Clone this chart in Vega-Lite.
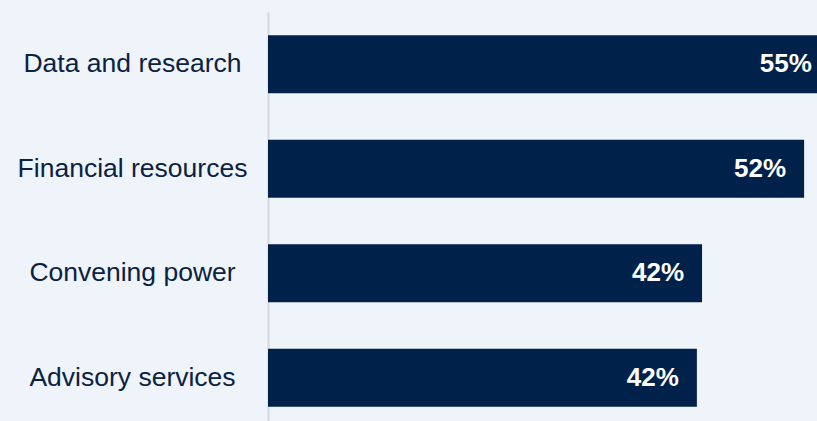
{
 "$schema": "https://vega.github.io/schema/vega-lite/v6.json",
 "width": 549,
 "height": 409,
 "autosize": {"type": "none"},
 "padding": {"left": 268, "top": 12, "right": 0, "bottom": 0},
 "background": "#eff3fa",
 "config": {"view": {"stroke": null}},
 "data": {"values": [
  {"category": "Data and research", "value": 54.5, "label": "55%"},
  {"category": "Financial resources", "value": 52.0, "label": "52%"},
  {"category": "Convening power", "value": 42.1, "label": "42%"},
  {"category": "Advisory services", "value": 41.6, "label": "42%"}
 ]},
 "encoding": {
  "y": {"field": "category", "type": "nominal", "sort": null,
   "scale": {"paddingInner": 0.445, "paddingOuter": 0.18, "align": 0.62},
   "axis": {"title": null, "ticks": false, "domainColor": "#d5d8de", "domainWidth": 2,
    "labelFontSize": 26.5, "labelFont": "Liberation Sans", "labelColor": "#0a2242",
    "labelAlign": "center", "labelPadding": 136, "labelLimit": 300}}
 },
 "layer": [
  {"mark": {"type": "bar", "color": "#00214a", "clip": true},
   "encoding": {"x": {"field": "value", "type": "quantitative", "scale": {"domain": [0, 53.25], "nice": false, "zero": true}, "axis": null}}},
  {"mark": {"type": "text", "align": "right", "baseline": "middle", "dx": -18, "color": "white", "fontSize": 26, "fontWeight": "bold", "font": "Liberation Sans"},
   "encoding": {"x": {"field": "value", "type": "quantitative"}, "text": {"field": "label"}}}
 ]
}
